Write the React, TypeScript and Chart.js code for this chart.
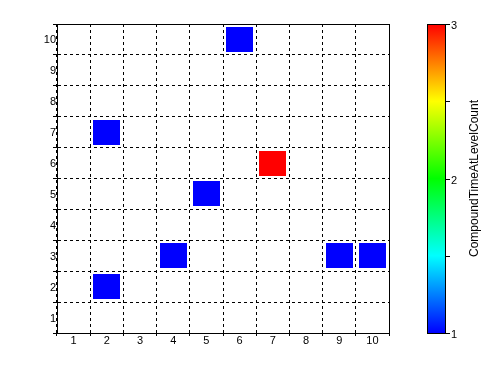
import React, { useEffect, useRef } from 'react';
import { Chart, registerables } from 'chart.js';

Chart.register(...registerables);

// Grid categories
const xLabels = ['1', '2', '3', '4', '5', '6', '7', '8', '9', '10'];
const yLabels = ['1', '2', '3', '4', '5', '6', '7', '8', '9', '10'];

// Occupied cells and their counts
const cellX = ['6', '2', '7', '5', '4', '9', '10', '2'];
const cellY = ['10', '7', '6', '5', '3', '3', '3', '2'];
const cellValue = [1, 1, 3, 1, 1, 1, 1, 1];

// Colour bar range and ticks
const colorMin = 1;
const colorMax = 3;
const colorTicks = [1, 1.5, 2, 2.5, 3];
const colorTickLabels = ['1', '', '2', '', '3'];
const colorTitle = 'CompoundTimeAtLevelCount';

const FONT = "'Liberation Sans', Arial, sans-serif";

// Blue -> cyan -> green -> yellow -> red
const colorStops: [number, [number, number, number]][] = [
  [0, [0, 0, 255]],
  [0.25, [0, 255, 255]],
  [0.5, [0, 255, 0]],
  [0.75, [255, 255, 0]],
  [1, [255, 0, 0]],
];

function colorFor(v: number): string {
  const t = Math.min(1, Math.max(0, (v - colorMin) / (colorMax - colorMin)));
  for (let i = 1; i < colorStops.length; i++) {
    const [t1, c1] = colorStops[i];
    const [t0, c0] = colorStops[i - 1];
    if (t <= t1) {
      const f = (t - t0) / (t1 - t0);
      const c = c0.map((a, k) => Math.round(a + (c1[k] - a) * f));
      return `rgb(${c[0]},${c[1]},${c[2]})`;
    }
  }
  return 'rgb(255,0,0)';
}

const cellPlugin = {
  id: 'cells',
  afterDatasetsDraw(chart: any) {
    const meta = chart.getDatasetMeta(0);
    const xs = chart.scales.x;
    const ys = chart.scales.y;
    const w = Math.round((xs.width / xLabels.length) * 0.82);
    const h = Math.round((ys.height / yLabels.length) * 0.8);
    const ctx = chart.ctx;
    ctx.save();
    meta.data.forEach((pt: any, i: number) => {
      ctx.fillStyle = colorFor(cellValue[i]);
      ctx.fillRect(Math.round(pt.x - w / 2), Math.round(pt.y - h / 2), w, h);
    });
    ctx.restore();
  },
};

const framePlugin = {
  id: 'frameAndColorbar',
  afterDraw(chart: any) {
    const { ctx, chartArea } = chart;
    const { left, top, right, bottom } = chartArea;
    ctx.save();
    // plot frame
    ctx.strokeStyle = '#000';
    ctx.lineWidth = 1;
    ctx.setLineDash([]);
    ctx.strokeRect(Math.round(left) + 0.5, Math.round(top) + 0.5, Math.round(right - left), Math.round(bottom - top));

    // colour bar
    const bx = Math.round(right) + 38;
    const bw = 18;
    const bt = Math.round(top);
    const bb = Math.round(bottom);
    const grad = ctx.createLinearGradient(0, bb, 0, bt);
    colorStops.forEach(([t, c]) => grad.addColorStop(t, `rgb(${c[0]},${c[1]},${c[2]})`));
    ctx.fillStyle = grad;
    ctx.fillRect(bx, bt, bw, bb - bt);
    ctx.strokeRect(bx + 0.5, bt + 0.5, bw, bb - bt);

    ctx.font = `11px ${FONT}`;
    ctx.fillStyle = '#000';
    ctx.textAlign = 'left';
    ctx.textBaseline = 'middle';
    colorTicks.forEach((v, i) => {
      const y = Math.round(bb - ((v - colorMin) / (colorMax - colorMin)) * (bb - bt)) + 0.5;
      ctx.beginPath();
      ctx.moveTo(bx + bw + 1, y);
      ctx.lineTo(bx + bw + 5, y);
      ctx.stroke();
      if (colorTickLabels[i]) ctx.fillText(colorTickLabels[i], bx + bw + 6, y + 1);
    });

    ctx.translate(bx + bw + 30, (bt + bb) / 2);
    ctx.rotate(-Math.PI / 2);
    ctx.textAlign = 'center';
    ctx.font = `12px ${FONT}`;
    ctx.fillText(colorTitle, 0, 0);
    ctx.restore();
  },
};

export default function App() {
  const ref = useRef<HTMLCanvasElement>(null);

  useEffect(() => {
    document.body.style.margin = '0';
    const canvas = ref.current;
    if (!canvas) return;
    const tickFont = { family: FONT, size: 11 };
    const chart = new Chart(canvas, {
      type: 'scatter',
      data: {
        datasets: [
          {
            data: cellX.map((x, i) => ({ x, y: cellY[i] })) as any,
            pointRadius: 0,
            pointHoverRadius: 0,
          },
        ],
      },
      options: {
        animation: false,
        responsive: false,
        devicePixelRatio: 1,
        events: [],
        layout: { padding: { top: 24, right: 102, left: 0, bottom: 0 } },
        plugins: { legend: { display: false }, tooltip: { enabled: false } },
        scales: {
          x: {
            type: 'category',
            labels: xLabels,
            offset: true,
            grid: {
              offset: true,
              color: '#000',
              lineWidth: 1,
              tickLength: 3,
              tickColor: '#000',
            },
            border: { display: true, color: '#000', dash: [3, 3] },
            ticks: { color: '#000', font: tickFont, padding: -2, autoSkip: false, maxRotation: 0 },
            afterFit: (s: any) => {
              s.height = 45;
            },
          },
          y: {
            type: 'category',
            labels: yLabels,
            reverse: true,
            offset: true,
            grid: {
              offset: true,
              color: '#000',
              lineWidth: 1,
              tickLength: 4,
              tickColor: '#000',
            },
            border: { display: true, color: '#000', dash: [3, 3] },
            ticks: { color: '#000', font: tickFont, padding: -3, autoSkip: false, labelOffset: 1 },
            afterFit: (s: any) => {
              s.width = 57;
            },
          },
        },
      },
      plugins: [cellPlugin, framePlugin],
    });
    return () => chart.destroy();
  }, []);

  return (
    <div style={{ width: 491, height: 378, background: '#fff' }}>
      <canvas ref={ref} width={491} height={378} />
    </div>
  );
}
